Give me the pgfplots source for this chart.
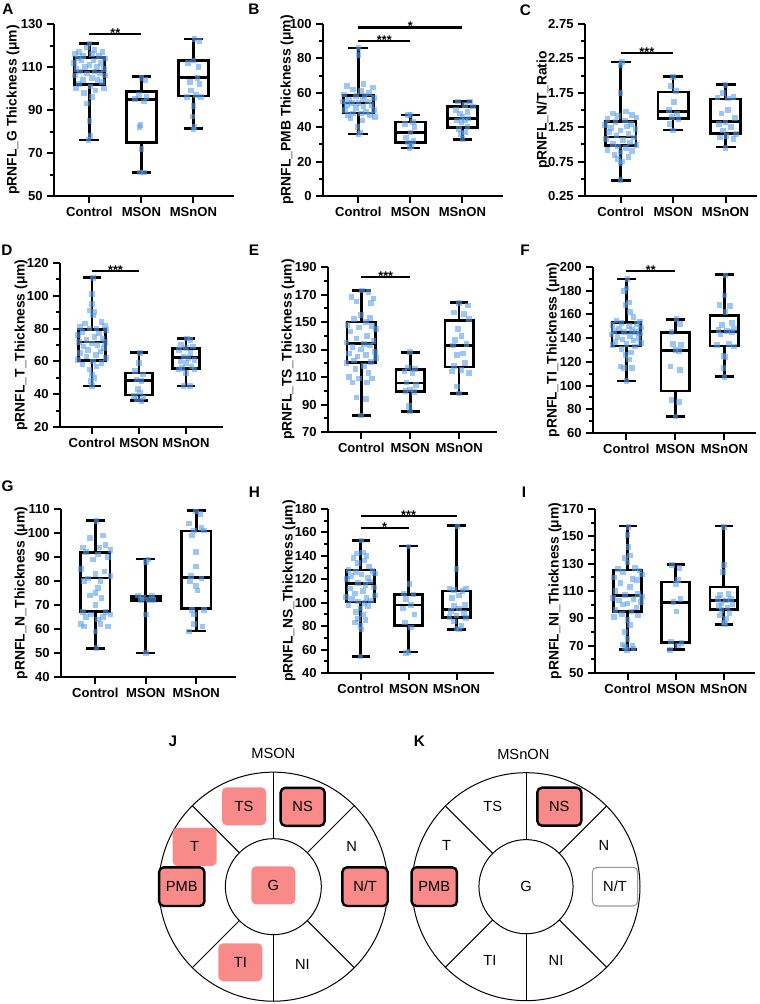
\documentclass[border=0pt]{standalone}
\usepackage{pgfplots}
\pgfplotsset{compat=1.18}
\usepgfplotslibrary{statistics}
\usepackage{fontspec}
\setmainfont{Liberation Sans}
\definecolor{ptblue}{RGB}{90,160,240}
\definecolor{pk}{RGB}{249,138,138}
\pgfplotsset{
  ylab/.style={every axis y label/.style={at={(axis description cs:0,0.5)}, xshift=#1, rotate=90, anchor=center, font=\bfseries\fontsize{10.4}{12}\selectfont}},
  gp/.style={
    scale only axis, anchor=south west,
    axis x line=bottom, axis y line=left,
    axis line style={-, line width=1.8pt, black},
    xmin=-0.68, xmax=2.78,
    xtick={0,1,2}, xticklabels={Control,MSON,MSnON},
    tick align=outside,
    major tick length=5pt, minor tick length=3pt,
    tick style={line width=1.5pt, black},
    minor y tick num=1,
    ticklabel style={font=\bfseries\fontsize{9.8}{11}\selectfont, text=black},
    /pgf/number format/assume math mode=true,
    ylab=-30pt,
    clip=false,
    boxplot/draw direction=y,
    boxplot/box extend=0.58, boxplot/whisker extend=0.38,
    boxplot/every box/.style={draw, line width=2pt},
    boxplot/every whisker/.style={line width=2pt},
    boxplot/every median/.style={line width=2pt},
  },
  bx/.style={black, line width=2pt, solid, mark=none},
  pts/.style={only marks, mark=square*, mark size=2.1pt, color=ptblue, mark options={solid, draw opacity=0, fill opacity=0.6}},
  sig/.style={black, line width=1.6pt, mark=none},
}
\tikzset{
  star/.style={anchor=base, font=\bfseries\fontsize{9.5}{11}\selectfont, inner sep=0pt, yshift=-2.5pt},
  plab/.style={font=\bfseries\fontsize{11.5}{13}\selectfont, inner sep=0pt},
  dtxt/.style={font=\fontsize{11}{12}\selectfont, inner sep=0pt},
  rb/.style={fill=pk, rounded corners=3.5pt, minimum width=33pt, minimum height=28.5pt, inner sep=0pt, font=\fontsize{11}{12}\selectfont},
  rbb/.style={rb, draw=black, line width=1.8pt},
}
\begin{document}
\begin{tikzpicture}
\useasboundingbox (0,0) rectangle (570pt,-753pt);

% ---------------- A
\begin{axis}[gp, at={(40.5pt,-147pt)}, width=135pt, height=129pt, ymin=50, ymax=130, ytick={50,70,90,110,130}, ylab=-30.75pt, ylabel={pRNFL\_G Thickness (μm)}]
\addplot[bx, boxplot prepared={draw position=0, lower whisker=76, lower quartile=102, median=108, upper quartile=114.5, upper whisker=121}] coordinates {};
\addplot[bx, boxplot prepared={draw position=1, lower whisker=61, lower quartile=75, median=95, upper quartile=98.5, upper whisker=105.5}] coordinates {};
\addplot[bx, boxplot prepared={draw position=2, lower whisker=81.5, lower quartile=96.5, median=105, upper quartile=113, upper whisker=123}] coordinates {};
\addplot[pts] coordinates {(0.00,121) (-0.05,119) (0.1,118) (-0.2,117) (0.25,117) (-0.28,116) (0.05,116) (0.18,115) (-0.12,115) (0.3,114) (-0.22,114) (0.08,113) (-0.15,113) (0.22,112) (-0.3,112) (0.0,111) (0.15,110) (-0.08,110) (0.28,109) (-0.25,109) (0.1,108) (-0.18,108) (0.2,107) (-0.05,107) (0.3,106) (-0.28,106) (0.05,105) (0.16,104) (-0.12,104) (0.24,103) (-0.2,102) (0.02,101) (0.28,100) (-0.26,100) (0.12,99) (-0.1,98) (0.05,96) (-0.05,93) (0.0,85) (0.02,78) (-0.02,76)};
\addplot[pts] coordinates {(1.0,105) (1.08,104) (0.95,97) (1.1,96) (0.88,95) (1.05,94) (0.98,83) (0.96,82) (1.0,72) (0.97,61) (1.05,61)};
\addplot[pts] coordinates {(2.02,123) (2.12,122) (2.0,113) (1.9,112) (2.1,110) (2.08,105) (1.93,103) (2.12,102) (1.95,99) (2.05,97) (1.88,96) (2.14,96) (2.0,92) (1.98,87) (2.02,82) (2.0,81)};
\addplot[sig] coordinates {(0,125.3) (1,125.3)};
\node[star] at (axis cs:0.5,125.3) {**};
\end{axis}

% ---------------- B
\begin{axis}[gp, at={(242.25pt,-147pt)}, width=135pt, height=129pt, ymin=0, ymax=100, ytick={0,20,...,100}, ylab=-27pt, ylabel={pRNFL\_PMB Thickness (μm)}]
\addplot[bx, boxplot prepared={draw position=0, lower whisker=36, lower quartile=48.3, median=54, upper quartile=58.6, upper whisker=86}] coordinates {};
\addplot[bx, boxplot prepared={draw position=1, lower whisker=28, lower quartile=31, median=37, upper quartile=43, upper whisker=47}] coordinates {};
\addplot[bx, boxplot prepared={draw position=2, lower whisker=33, lower quartile=40, median=45, upper quartile=52, upper whisker=55}] coordinates {};
\addplot[pts] coordinates {(0.0,86) (0.0,82) (0.1,65) (-0.22,64) (0.28,63) (-0.1,62) (0.05,61) (0.2,60) (-0.28,59) (0.12,58) (-0.05,58) (0.3,57) (-0.18,56) (0.08,56) (-0.3,55) (0.18,55) (0.0,54) (-0.12,54) (0.25,53) (-0.22,53) (0.1,52) (-0.05,51) (0.3,50) (-0.26,50) (0.15,49) (-0.1,48) (0.05,48) (0.22,47) (-0.2,47) (0.32,46) (-0.15,45) (0.08,44) (-0.02,40) (0.04,37) (0.0,36)};
\addplot[pts] coordinates {(1.0,47) (0.95,47) (1.05,43) (0.9,42) (1.08,40) (1.0,37) (0.92,34) (1.06,32) (0.95,31) (1.02,29) (0.98,28)};
\addplot[pts] coordinates {(2.15,55) (1.92,55) (2.05,53) (2.2,52) (1.88,50) (2.1,49) (1.95,48) (2.0,46) (2.12,45) (1.9,44) (2.05,44) (1.98,43) (2.1,40) (1.93,39) (2.05,37) (1.97,36) (2.0,33)};
\addplot[sig] coordinates {(0,90.3) (1,90.3)};
\node[star] at (axis cs:0.5,90.3) {***};
\addplot[sig] coordinates {(0,98) (2,98)};
\node[star] at (axis cs:1,98) {*};
\end{axis}

% ---------------- C
\begin{axis}[gp, at={(438.75pt,-147pt)}, width=129pt, height=129pt, xmax=2.6, ymin=0.25, ymax=2.75, ytick={0.25,0.75,1.25,1.75,2.25,2.75}, yticklabel style={/pgf/number format/.cd, fixed, fixed zerofill, precision=2}, ylab=-31.5pt, ylabel={pRNFL\_N/T\_Ratio}]
\addplot[bx, boxplot prepared={draw position=0, lower whisker=0.48, lower quartile=0.98, median=1.11, upper quartile=1.33, upper whisker=2.2}] coordinates {};
\addplot[bx, boxplot prepared={draw position=1, lower whisker=1.21, lower quartile=1.38, median=1.48, upper quartile=1.76, upper whisker=1.99}] coordinates {};
\addplot[bx, boxplot prepared={draw position=2, lower whisker=0.96, lower quartile=1.16, median=1.33, upper quartile=1.66, upper whisker=1.87}] coordinates {};
\addplot[pts] coordinates {(0.02,2.2) (0.0,2.15) (0.0,1.75) (0.1,1.48) (-0.15,1.45) (0.22,1.43) (-0.05,1.41) (0.3,1.39) (-0.25,1.37) (0.08,1.35) (-0.1,1.33) (0.2,1.3) (-0.3,1.28) (0.12,1.26) (-0.18,1.24) (0.28,1.22) (0.0,1.2) (-0.22,1.18) (0.15,1.15) (-0.08,1.13) (0.25,1.1) (-0.28,1.08) (0.05,1.06) (0.18,1.03) (-0.15,1.01) (0.3,0.99) (-0.05,0.97) (0.1,0.95) (-0.25,0.92) (0.22,0.9) (0.0,0.88) (-0.12,0.85) (0.15,0.82) (-0.05,0.79) (0.03,0.75) (0.0,0.72) (0.0,0.48)};
\addplot[pts] coordinates {(1.0,1.98) (0.95,1.85) (1.05,1.78) (1.02,1.62) (0.92,1.5) (1.08,1.45) (0.98,1.4) (1.1,1.37) (0.93,1.3) (1.0,1.2)};
\addplot[pts] coordinates {(2.0,1.86) (1.95,1.75) (2.15,1.69) (1.85,1.68) (2.05,1.67) (2.05,1.5) (1.92,1.45) (2.18,1.38) (2.0,1.32) (1.88,1.3) (2.1,1.25) (1.95,1.2) (2.2,1.15) (2.02,1.12) (1.9,1.1) (2.15,1.08) (2.0,0.95)};
\addplot[sig] coordinates {(0,2.33) (1,2.33)};
\node[star] at (axis cs:0.5,2.33) {***};
\end{axis}

% ---------------- D
\begin{axis}[gp, at={(45pt,-320.25pt)}, width=122pt, height=123pt, ymin=20, ymax=120, ytick={20,40,...,120}, ylab=-29.25pt, ylabel={pRNFL\_T\_Thickness (μm)}]
\addplot[bx, boxplot prepared={draw position=0, lower whisker=45, lower quartile=60.7, median=71.8, upper quartile=79.6, upper whisker=111}] coordinates {};
\addplot[bx, boxplot prepared={draw position=1, lower whisker=36, lower quartile=39.5, median=48.2, upper quartile=53, upper whisker=65.3}] coordinates {};
\addplot[bx, boxplot prepared={draw position=2, lower whisker=45, lower quartile=55.7, median=62.2, upper quartile=67.8, upper whisker=74}] coordinates {};
\addplot[pts] coordinates {(0.02,111) (0.0,101) (0.0,95) (-0.05,91) (0.05,90) (0.02,88) (0.2,84) (-0.15,83) (0.28,82) (-0.25,81) (0.1,80) (-0.05,80) (0.3,79) (-0.2,78) (0.15,77) (-0.3,76) (0.05,75) (0.22,74) (-0.12,73) (0.28,72) (-0.28,72) (0.0,71) (0.12,70) (-0.18,69) (0.25,68) (-0.08,67) (0.18,66) (-0.25,65) (0.08,64) (-0.12,63) (0.3,62) (-0.3,61) (0.02,60) (0.2,59) (-0.2,58) (0.1,57) (-0.05,55) (0.0,52) (0.05,50) (-0.02,48) (0.0,45)};
\addplot[pts] coordinates {(1.02,65) (1.0,59) (0.92,54) (1.08,52) (0.95,49) (1.05,48) (0.98,43) (1.02,41) (0.9,39) (1.1,38) (0.95,37) (1.05,36)};
\addplot[pts] coordinates {(2.02,74) (2.1,73) (1.9,70) (2.15,69) (2.0,68) (1.85,67) (2.1,65) (1.95,63) (2.05,62) (2.18,61) (1.88,60) (2.0,59) (2.12,57) (1.92,56) (2.18,55) (1.85,55) (2.0,53) (2.08,45) (1.95,45)};
\addplot[sig] coordinates {(0,115.3) (1,115.3)};
\node[star] at (axis cs:0.5,115.3) {***};
\end{axis}

% ---------------- E
\begin{axis}[gp, at={(246pt,-324pt)}, width=127pt, height=123.75pt, ymin=70, ymax=190, ytick={70,90,...,190}, ylabel={pRNFL\_TS\_Thickness (μm)}]
\addplot[bx, boxplot prepared={draw position=0, lower whisker=82, lower quartile=120.7, median=134.2, upper quartile=150, upper whisker=172.8}] coordinates {};
\addplot[bx, boxplot prepared={draw position=1, lower whisker=85, lower quartile=99.3, median=105.6, upper quartile=115.3, upper whisker=128}] coordinates {};
\addplot[bx, boxplot prepared={draw position=2, lower whisker=98, lower quartile=117.3, median=133, upper quartile=151.2, upper whisker=164.3}] coordinates {};
\addplot[pts] coordinates {(0.02,173) (0.15,172) (-0.2,168) (0.25,167) (-0.1,165) (0.2,164) (0.0,155) (0.18,153) (-0.15,152) (0.1,150) (-0.28,148) (0.22,147) (-0.05,146) (0.3,145) (-0.22,143) (0.12,140) (-0.1,138) (0.25,136) (-0.3,135) (0.05,134) (0.18,133) (-0.18,132) (0.0,130) (0.28,128) (-0.25,127) (0.1,126) (-0.08,125) (0.3,124) (-0.15,122) (0.2,121) (-0.3,120) (0.05,118) (-0.12,116) (0.15,113) (-0.25,110) (0.22,109) (-0.05,109) (0.12,106) (-0.18,106) (-0.1,95) (0.1,94) (0.0,82)};
\addplot[pts] coordinates {(1.0,128) (0.95,117) (1.1,116) (0.88,114) (1.05,113) (0.92,106) (1.12,104) (1.0,101) (0.9,100) (1.08,99) (0.98,89) (1.0,85)};
\addplot[pts] coordinates {(2.0,164) (2.18,162) (1.9,157) (2.1,156) (2.2,152) (1.98,145) (2.05,140) (1.92,137) (2.15,134) (1.88,133) (2.08,127) (1.95,126) (2.12,120) (1.9,118) (2.05,115) (1.85,114) (2.2,113) (1.95,103) (2.0,98)};
\addplot[sig] coordinates {(0,182.5) (1,182.5)};
\node[star] at (axis cs:0.5,182.5) {***};
\end{axis}

% ---------------- F
\begin{axis}[gp, at={(444.75pt,-324.75pt)}, width=122.4pt, height=124.5pt, xmax=2.65, ymin=60, ymax=200, ytick={60,80,...,200}, ylabel={pRNFL\_TI\_Thickness (μm)}]
\addplot[bx, boxplot prepared={draw position=0, lower whisker=104, lower quartile=133.4, median=145, upper quartile=153.4, upper whisker=190}] coordinates {};
\addplot[bx, boxplot prepared={draw position=1, lower whisker=74, lower quartile=95.3, median=129.5, upper quartile=145, upper whisker=156}] coordinates {};
\addplot[bx, boxplot prepared={draw position=2, lower whisker=107.4, lower quartile=133.4, median=145.5, upper quartile=159, upper whisker=193.5}] coordinates {};
\addplot[pts] coordinates {(0.02,190) (0.0,182) (-0.05,180) (0.05,170) (-0.02,168) (0.08,162) (0.15,158) (-0.2,155) (0.28,154) (-0.1,153) (0.22,152) (-0.28,151) (0.05,150) (0.3,149) (-0.15,148) (0.12,147) (-0.25,146) (0.2,145) (-0.05,145) (0.28,144) (-0.3,143) (0.08,142) (-0.18,141) (0.25,140) (-0.08,139) (0.15,138) (-0.22,137) (0.3,136) (0.0,135) (-0.28,134) (0.18,133) (-0.1,131) (0.1,128) (-0.02,126) (0.05,122) (-0.12,116) (0.12,115) (-0.05,115) (0.0,104)};
\addplot[pts] coordinates {(1.02,156) (1.1,152) (0.92,145) (0.95,135) (1.12,134) (1.0,130) (1.08,129) (0.9,116) (1.1,113) (0.92,88) (1.08,86) (1.0,74)};
\addplot[pts] coordinates {(2.02,193) (2.0,176) (1.9,168) (2.12,167) (2.02,162) (2.15,153) (1.95,151) (2.2,148) (1.88,147) (2.05,146) (2.15,145) (1.92,143) (2.1,135) (1.85,134) (2.2,133) (1.98,125) (2.02,124) (1.98,115) (2.0,107)};
\addplot[sig] coordinates {(0,196.9) (1,196.9)};
\node[star] at (axis cs:0.5,196.9) {**};
\end{axis}

% ---------------- G
\begin{axis}[gp, at={(45.75pt,-507.75pt)}, width=131pt, height=126pt, ymin=40, ymax=110, ytick={40,50,...,110}, minor y tick num=0, ylabel={pRNFL\_N\_Thickness (μm)}]
\addplot[bx, boxplot prepared={draw position=0, lower whisker=52, lower quartile=67.4, median=81.2, upper quartile=92, upper whisker=105.2}] coordinates {};
\addplot[bx, boxplot prepared={draw position=1, lower whisker=50, lower quartile=71.8, median=72.6, upper quartile=73.7, upper whisker=89.2}] coordinates {};
\addplot[bx, boxplot prepared={draw position=2, lower whisker=59.2, lower quartile=68.6, median=81.6, upper quartile=100.8, upper whisker=109.4}] coordinates {};
\addplot[pts] coordinates {(0.02,105) (0.15,99) (-0.1,98) (0.2,95) (-0.25,94) (0.08,94) (0.3,93) (-0.18,92) (0.05,91) (0.25,90) (-0.05,89) (-0.28,85) (0.18,84) (0.0,83) (0.3,82) (-0.15,81) (0.1,80) (-0.22,80) (0.05,77) (0.0,75) (-0.1,74) (0.12,73) (0.0,70) (-0.25,67) (0.2,67) (-0.08,66) (0.3,66) (-0.18,65) (0.15,65) (0.05,64) (-0.28,62) (0.1,62) (0.25,61) (-0.22,61) (0.0,59) (0.02,52)};
\addplot[pts] coordinates {(1.05,89) (1.0,88) (0.85,74) (1.12,74) (0.95,73) (1.05,72) (0.9,72) (1.15,72) (1.0,66) (1.0,50)};
\addplot[pts] coordinates {(2.0,109) (2.08,108) (1.85,104) (2.1,102) (1.95,101) (2.15,101) (1.92,99) (2.0,92) (2.0,86) (1.9,82) (2.1,81) (1.88,80) (2.0,78) (2.02,76) (1.92,68) (2.15,68) (1.95,66) (1.95,62) (2.12,61) (1.85,59)};
\end{axis}

% ---------------- H
\begin{axis}[gp, at={(246pt,-504.75pt)}, width=124.5pt, height=123pt, ymin=40, ymax=180, ytick={40,60,...,180}, ylab=-29.25pt, ylabel={pRNFL\_NS\_Thickness (μm)}]
\addplot[bx, boxplot prepared={draw position=0, lower whisker=54, lower quartile=100.5, median=116.5, upper quartile=128, upper whisker=153.3}] coordinates {};
\addplot[bx, boxplot prepared={draw position=1, lower whisker=58, lower quartile=80.5, median=98, upper quartile=107.2, upper whisker=148.5}] coordinates {};
\addplot[bx, boxplot prepared={draw position=2, lower whisker=77, lower quartile=87.5, median=94.5, upper quartile=110, upper whisker=166}] coordinates {};
\addplot[pts] coordinates {(0.02,153) (0.05,143) (-0.08,142) (0.12,140) (-0.15,138) (0.08,136) (-0.05,134) (0.18,131) (-0.25,128) (0.25,127) (-0.1,126) (0.3,125) (0.02,124) (-0.2,123) (0.15,121) (-0.28,120) (0.2,118) (-0.05,117) (0.1,115) (0.28,113) (-0.22,112) (0.05,110) (-0.12,108) (0.3,106) (-0.3,105) (0.12,104) (-0.18,103) (0.22,102) (-0.05,101) (0.08,100) (-0.25,98) (0.15,97) (0.0,95) (-0.1,92) (0.05,90) (-0.05,86) (0.1,85) (-0.12,83) (0.0,80) (0.02,77) (0.0,54)};
\addplot[pts] coordinates {(1.0,148) (1.02,116) (0.9,108) (1.1,107) (0.95,103) (1.05,98) (0.88,95) (1.12,90) (0.92,83) (1.05,79) (1.0,58) (0.95,57)};
\addplot[pts] coordinates {(2.02,165) (2.0,129) (1.85,112) (2.2,112) (1.95,111) (2.12,110) (2.05,106) (1.9,104) (2.18,98) (1.95,97) (2.05,95) (1.88,93) (2.15,91) (2.0,89) (1.85,88) (2.2,87) (1.95,84) (2.1,80) (2.0,78) (2.05,77)};
\addplot[sig] coordinates {(0,163.5) (1,163.5)};
\node[star] at (axis cs:0.5,163.5) {*};
\addplot[sig] coordinates {(0,174) (2,174)};
\node[star] at (axis cs:1,174) {***};
\end{axis}

% ---------------- I
\begin{axis}[gp, at={(446.25pt,-504.75pt)}, width=120pt, height=123pt, xmax=2.65, ymin=50, ymax=170, ytick={50,70,...,170}, ylabel={pRNFL\_NI\_Thickness (μm)}]
\addplot[bx, boxplot prepared={draw position=0, lower whisker=67, lower quartile=95.2, median=106.5, upper quartile=125.3, upper whisker=157.5}] coordinates {};
\addplot[bx, boxplot prepared={draw position=1, lower whisker=67, lower quartile=72.2, median=101.5, upper quartile=116.6, upper whisker=129.3}] coordinates {};
\addplot[bx, boxplot prepared={draw position=2, lower whisker=85.7, lower quartile=96.3, median=103, upper quartile=113, upper whisker=157.5}] coordinates {};
\addplot[pts] coordinates {(0.02,157) (0.0,151) (0.02,142) (0.05,136) (-0.05,134) (0.0,131) (0.15,127) (-0.2,126) (0.25,125) (-0.1,124) (0.3,122) (-0.28,120) (0.1,119) (0.2,118) (-0.15,116) (0.05,113) (-0.25,110) (0.22,108) (-0.05,107) (0.3,106) (-0.3,105) (0.12,104) (-0.18,103) (0.28,102) (0.0,101) (-0.1,100) (0.18,98) (-0.25,96) (0.08,95) (-0.12,93) (0.22,92) (-0.28,91) (0.0,89) (0.05,85) (-0.05,80) (0.0,75) (-0.1,71) (0.1,70) (-0.05,69) (0.12,68) (-0.02,67)};
\addplot[pts] coordinates {(0.92,129) (1.08,127) (1.05,118) (1.0,115) (1.1,104) (0.95,102) (1.02,95) (0.9,73) (1.12,72) (1.05,70) (0.88,67)};
\addplot[pts] coordinates {(2.0,157) (2.0,129) (1.98,124) (2.1,108) (1.92,107) (2.15,104) (1.88,104) (2.05,103) (1.95,101) (2.18,100) (1.9,99) (2.08,98) (1.95,96) (2.12,94) (1.92,92) (2.05,90) (2.0,87) (2.02,86)};
\end{axis}

% panel letters
\node[plab] at (6pt,-7.2pt) {A};
\node[plab] at (190.5pt,-6.8pt) {B};
\node[plab] at (394pt,-7.5pt) {C};
\node[plab] at (5.25pt,-187.5pt) {D};
\node[plab] at (190.5pt,-187.5pt) {E};
\node[plab] at (393.75pt,-187.5pt) {F};
\node[plab] at (5.6pt,-364.5pt) {G};
\node[plab] at (190.9pt,-369pt) {H};
\node[plab] at (393pt,-369pt) {I};
\node[plab] at (129.75pt,-555.75pt) {J};
\node[plab] at (314.6pt,-555.75pt) {K};

% ---------------- J
\begin{scope}[shift={(205pt,-665pt)}]
\draw[line width=0.75pt] (0,0) circle[radius=85.9pt];
\draw[line width=0.75pt] (0,0) circle[radius=36pt];
\foreach \a in {45,90,135,225,270,315} \draw[line width=0.75pt] (\a:36pt) -- (\a:85.9pt);
\node[dtxt] at (0pt,100pt) {MSON};
\node[rb] at (-22pt,60.3pt) {TS};
\node[rbb] at (22pt,59.9pt) {NS};
\node[rb] at (-59pt,29.8pt) {T};
\node[rbb, minimum width=34pt, minimum height=29pt] at (-68.7pt,0pt) {PMB};
\node[rb] at (0pt,1pt) {G};
\node[rbb, minimum width=34pt, minimum height=29pt] at (68.8pt,0pt) {N/T};
\node[rb] at (-24.75pt,-56.7pt) {TI};
\node[dtxt] at (58.8pt,30.5pt) {N};
\node[dtxt] at (21.75pt,-58.2pt) {NI};
\end{scope}

% ---------------- K
\begin{scope}[shift={(394.5pt,-665pt)}]
\draw[line width=0.75pt] (0,0) circle[radius=85.5pt];
\draw[line width=0.75pt] (0,0) circle[radius=35.3pt];
\foreach \a in {45,90,135,225,270,315} \draw[line width=0.75pt] (\a:35.3pt) -- (\a:85.5pt);
\node[dtxt] at (-2pt,99.3pt) {MSnON};
\node[dtxt] at (-25pt,60pt) {TS};
\node[rbb] at (25pt,60pt) {NS};
\node[dtxt] at (-59.5pt,30.75pt) {T};
\node[dtxt] at (58.5pt,30.75pt) {N};
\node[rbb, minimum width=34pt, minimum height=29pt] at (-68.8pt,0pt) {PMB};
\node[dtxt] at (0pt,0pt) {G};
\node[rb, fill=white, draw=gray!80, line width=0.8pt, minimum width=34pt, minimum height=29pt] at (66.75pt,0pt) {N/T};
\node[dtxt] at (-27pt,-55.5pt) {TI};
\node[dtxt] at (22.5pt,-55.5pt) {NI};
\end{scope}
\end{tikzpicture}
\end{document}
